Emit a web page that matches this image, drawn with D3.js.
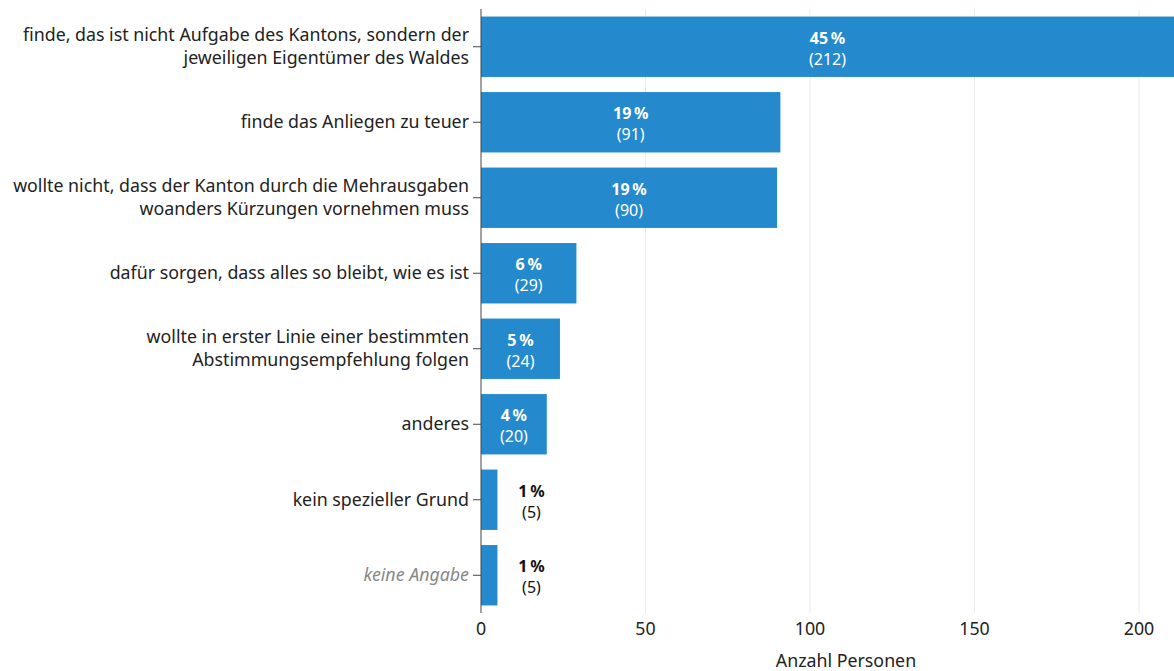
<!DOCTYPE html>
<html>
<head>
<meta charset="utf-8">
<script src="https://cdn.jsdelivr.net/npm/d3@7"></script>
<style>
  body { margin: 0; background: #fff; }
  svg { font-family: "Noto Sans", sans-serif; display: block; }
</style>
</head>
<body>
<script>
// categories (each entry = lines of the label)
const categories = [
    ["finde, das ist nicht Aufgabe des Kantons, sondern der", "jeweiligen Eigentümer des Waldes"],
    ["finde das Anliegen zu teuer"],
    ["wollte nicht, dass der Kanton durch die Mehrausgaben", "woanders Kürzungen vornehmen muss"],
    ["dafür sorgen, dass alles so bleibt, wie es ist"],
    ["wollte in erster Linie einer bestimmten", "Abstimmungsempfehlung folgen"],
    ["anderes"],
    ["kein spezieller Grund"],
    ["keine Angabe"]
];
const counts = [212, 91, 90, 29, 24, 20, 5, 5];
const percents = [45, 19, 19, 6, 5, 4, 1, 1];
const xTicks = [0, 50, 100, 150, 200];

const width = 1174, height = 671;
const x0 = 481;
const fs = 17.8;

const svg = d3.select("body").append("svg")
    .attr("width", width)
    .attr("height", height);

const x = d3.scaleLinear().domain([0, 200]).range([x0, 1139]);
const y = d3.scaleBand()
    .domain(d3.range(categories.length))
    .range([9, 613])
    .paddingInner(0.2)
    .paddingOuter(0.1);

//gridlines
svg.append("g")
    .selectAll("line")
    .data(xTicks.filter(d => d > 0))
    .join("line")
    .attr("x1", d => x(d)).attr("x2", d => x(d))
    .attr("y1", 9).attr("y2", 613)
    .attr("stroke", "#ebebeb")
    .attr("stroke-width", 1);

//bars
svg.append("g")
    .selectAll("rect")
    .data(counts)
    .join("rect")
    .attr("x", x(0))
    .attr("y", (d, i) => y(i))
    .attr("width", d => x(d) - x(0))
    .attr("height", y.bandwidth())
    .attr("fill", "#258acd");

//value labels - inside the bar if it is wide enough, else to the right
const labels = svg.append("g")
    .selectAll("text")
    .data(counts)
    .join("text")
    .attr("text-anchor", "middle")
    .attr("font-size", 16)
    .attr("fill", d => d >= 15 ? "#fff" : "#111")
    .attr("transform", (d, i) => {
        let cx = d >= 15 ? (x(0) + x(d)) / 2 : x(d) + 34;
        if (x(d) > width) cx = (x0 + width) / 2; // bar runs off the plot
        return `translate(${cx},${y(i) + y.bandwidth() / 2})`;
    });
labels.append("tspan")
    .attr("x", 0).attr("dy", -3)
    .attr("font-weight", "bold")
    .text((d, i) => percents[i] + "\u202F%");
labels.append("tspan")
    .attr("x", 0).attr("dy", 21)
    .text(d => "(" + d + ")");

//y axis
const yAxis = svg.append("g");
yAxis.append("line")
    .attr("x1", x0).attr("x2", x0)
    .attr("y1", 9).attr("y2", 613)
    .attr("stroke", "#444");
const yt = yAxis.selectAll("g.tick")
    .data(categories)
    .join("g")
    .attr("transform", (d, i) => `translate(${x0},${y(i) + y.bandwidth() / 2})`);
yt.append("line")
    .attr("x1", -8).attr("x2", 0)
    .attr("stroke", "#444");
yt.append("text")
    .attr("text-anchor", "end")
    .attr("x", -12)
    .attr("font-size", fs)
    .attr("fill", (d, i) => i === categories.length - 1 ? "#888" : "#222")
    .attr("font-style", (d, i) => i === categories.length - 1 ? "italic" : "normal")
    .selectAll("tspan")
    .data(d => d.map((t, k) => ({ t, k, n: d.length })))
    .join("tspan")
    .attr("x", -12)
    .attr("y", d => (d.k - (d.n - 1) / 2) * 23 + 6)
    .text(d => d.t);

//x axis labels
svg.append("g")
    .selectAll("text")
    .data(xTicks)
    .join("text")
    .attr("x", d => x(d))
    .attr("y", 635)
    .attr("text-anchor", "middle")
    .attr("font-size", fs)
    .attr("fill", "#222")
    .text(d => d);

svg.append("text")
    .attr("x", 846)
    .attr("y", 667)
    .attr("text-anchor", "middle")
    .attr("font-size", fs)
    .attr("fill", "#222")
    .text("Anzahl Personen");
</script>
</body>
</html>
